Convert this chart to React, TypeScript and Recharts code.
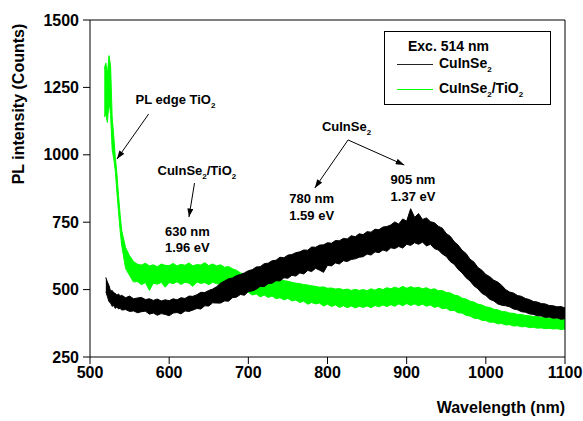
import React from 'react';
import { Area, ComposedChart, Label, Legend, ReferenceDot, ReferenceLine, XAxis, YAxis } from 'recharts';

// wavelength grid (nm)
const wavelengths = [
  518, 520, 522, 524, 526, 528, 530, 532, 534, 536, 538, 540,
  545, 550, 555, 560, 565, 570, 575, 580, 585, 590, 595, 600,
  605, 610, 615, 620, 625, 630, 635, 640, 645, 650, 655, 660,
  665, 670, 675, 680, 685, 690, 695, 700, 705, 710, 715, 720,
  725, 730, 735, 740, 745, 750, 755, 760, 765, 770, 775, 780,
  785, 790, 795, 800, 805, 810, 815, 820, 825, 830, 835, 840,
  845, 850, 855, 860, 865, 870, 875, 880, 885, 890, 895, 900,
  905, 910, 915, 920, 925, 930, 935, 940, 945, 950, 955, 960,
  965, 970, 975, 980, 985, 990, 995, 1000, 1005, 1010, 1015, 1020,
  1025, 1030, 1035, 1040, 1045, 1050, 1055, 1060, 1065, 1070, 1075, 1080,
  1085, 1090, 1095, 1100,
];

// CuInSe2 noise band (lower / upper edge)
const cisLow = [
  null, 492, 474, 455, 450, 438, 441, 430, 436, 428, 431, 424,
  426, 419, 421, 414, 418, 420, 409, 413, 405, 411, 408, 403,
  413, 415, 410, 421, 419, 424, 430, 428, 440, 439, 451, 450,
  450, 458, 457, 470, 472, 482, 479, 493, 495, 501, 512, 511,
  522, 524, 533, 532, 544, 542, 553, 550, 562, 558, 571, 567,
  579, 572, 564, 590, 588, 599, 595, 607, 604, 612, 614, 620,
  622, 632, 628, 640, 637, 647, 642, 655, 652, 660, 654, 668,
  664, 674, 668, 676, 662, 668, 652, 647, 632, 623, 604, 594,
  575, 562, 544, 532, 514, 503, 486, 478, 464, 458, 447, 442,
  440, 436, 428, 425, 418, 416, 410, 408, 403, 402, 397, 398,
  394, 395, 390, 392,
];
const cisHigh = [
  null, 545, 528, 515, 494, 497, 488, 486, 479, 484, 476, 479,
  470, 476, 466, 469, 471, 463, 466, 460, 465, 458, 462, 459,
  466, 462, 470, 467, 476, 475, 481, 490, 489, 497, 502, 511,
  524, 532, 540, 543, 552, 556, 562, 570, 574, 584, 585, 596,
  598, 607, 609, 620, 618, 628, 630, 637, 640, 647, 646, 658,
  657, 665, 666, 674, 672, 682, 681, 690, 688, 700, 696, 707,
  704, 715, 713, 724, 722, 732, 734, 740, 751, 743, 762, 754,
  800, 768, 782, 760, 766, 752, 748, 735, 728, 708, 698, 678,
  665, 646, 634, 613, 602, 582, 572, 556, 548, 535, 528, 516,
  500, 491, 487, 478, 475, 467, 463, 456, 454, 448, 447, 441,
  440, 436, 437, 432,
];

// CuInSe2/TiO2 noise band
const tioLow = [
  1140, 1150, 1120, 1200, 1150, 1020, 985, 940, 860, 790, 720, 665,
  578, 552, 528, 530, 518, 526, 497, 524, 520, 527, 509, 526,
  522, 529, 519, 527, 524, 512, 528, 523, 526, 518, 527, 522,
  520, 524, 512, 515, 506, 503, 492, 490, 480, 484, 473, 480,
  471, 476, 466, 470, 462, 467, 458, 461, 452, 457, 446, 452,
  447, 450, 439, 446, 437, 443, 434, 440, 433, 439, 432, 438,
  434, 439, 433, 441, 436, 443, 437, 444, 438, 447, 440, 448,
  441, 447, 440, 446, 438, 443, 434, 438, 429, 431, 422, 423,
  414, 413, 404, 402, 394, 393, 386, 385, 379, 379, 373, 374,
  369, 370, 365, 366, 362, 363, 359, 360, 357, 358, 355, 356,
  354, 355, 352, 354,
];
const tioHigh = [
  1320, 1340, 1300, 1368, 1330, 1140, 1070, 990, 930, 850, 780, 720,
  655, 626, 604, 594, 591, 598, 588, 592, 585, 595, 590, 589,
  597, 588, 594, 590, 599, 588, 593, 591, 600, 589, 595, 588,
  592, 583, 586, 577, 572, 562, 557, 546, 541, 550, 543, 545,
  540, 546, 535, 538, 533, 531, 527, 524, 522, 519, 517, 514,
  512, 509, 510, 505, 506, 502, 504, 499, 502, 497, 501, 497,
  500, 496, 503, 498, 505, 500, 507, 503, 509, 504, 512, 505,
  511, 506, 509, 503, 507, 500, 503, 496, 497, 489, 488, 480,
  477, 468, 465, 457, 454, 446, 443, 436, 434, 427, 425, 419,
  418, 413, 412, 408, 408, 404, 403, 400, 400, 396, 397, 394,
  394, 391, 393, 390,
];

const xTicks = [500, 600, 700, 800, 900, 1000, 1100];
const xMinor = [550, 650, 750, 850, 950, 1050];
const yTicks = [250, 500, 750, 1000, 1250, 1500];
const yMinor = [375, 625, 875, 1125, 1375];

const data = wavelengths.map((w, i) => ({
  w,
  cis: cisLow[i] == null ? null : [cisLow[i], cisHigh[i]],
  tio: [tioLow[i], tioHigh[i]],
}));

const FONT = '"Liberation Sans", Arial, sans-serif';
const tickStyle = { fontFamily: FONT, fontWeight: 'bold', fontSize: 16, fill: '#000' };
const noteProps = { fontFamily: FONT, fontWeight: 'bold', fontSize: 13, fill: '#000', textAnchor: 'middle' as const };

const Sub = ({ children }: { children: React.ReactNode }) => (
  <tspan fontSize={8} dy={4}>{children}</tspan>
);

const HtmlSub = ({ children }: { children: React.ReactNode }) => (
  <span style={{ fontSize: 8, position: 'relative', top: 4 }}>{children}</span>
);

const LegendBox = () => (
  <div
    style={{
      position: 'relative', width: 167, height: 74, border: '1px solid #000', boxSizing: 'border-box',
      background: '#fff', fontFamily: FONT, fontWeight: 'bold', fontSize: 14, lineHeight: '16px', color: '#000',
    }}
  >
    <div style={{ position: 'absolute', left: 23, top: 6 }}>Exc. 514 nm</div>
    <div style={{ position: 'absolute', left: 12, top: 32, width: 36, height: 1, background: '#222' }} />
    <div style={{ position: 'absolute', left: 54, top: 23 }}>CuInSe<HtmlSub>2</HtmlSub></div>
    <div style={{ position: 'absolute', left: 12, top: 57, width: 36, height: 1, background: '#00ff00' }} />
    <div style={{ position: 'absolute', left: 54, top: 48 }}>CuInSe<HtmlSub>2</HtmlSub>/TiO<HtmlSub>2</HtmlSub></div>
  </div>
);

const arrow = 'url(#noteArrow)';

const App = () => (
  <div style={{ position: 'absolute', left: 0, top: 0, background: '#fff' }}>
    <ComposedChart width={583} height={421} data={data} margin={{ top: 20, right: 18, bottom: 0, left: 0 }}>
      <XAxis xAxisId="minor" dataKey="w" type="number" domain={[500, 1100]} ticks={xMinor} height={0}
        axisLine={false} tickSize={4} tick={() => <g />} stroke="#000" allowDataOverflow />
      <XAxis dataKey="w" type="number" domain={[500, 1100]} ticks={xTicks} height={64} tickSize={7} tickMargin={3}
        tick={tickStyle} stroke="#000" allowDataOverflow>
        <Label
          content={({ viewBox }: any) => (
            <text x={viewBox.x + viewBox.width} y={viewBox.y + 56} textAnchor="end"
              fontFamily={FONT} fontWeight="bold" fontSize={16} fill="#000">Wavelength (nm)</text>
          )}
        />
      </XAxis>
      <YAxis yAxisId="minor" type="number" domain={[250, 1500]} ticks={yMinor} width={0}
        axisLine={false} tickSize={4} tick={() => <g />} stroke="#000" allowDataOverflow />
      <YAxis type="number" domain={[250, 1500]} ticks={yTicks} width={90} tickSize={7} tickMargin={4}
        tick={tickStyle} stroke="#000" allowDataOverflow>
        <Label
          content={({ viewBox }: any) => {
            const x = viewBox.x + 24;
            const y = viewBox.y + 84;
            return (
              <text x={x} y={y} transform={`rotate(-90, ${x}, ${y})`} textAnchor="middle"
                fontFamily={FONT} fontWeight="bold" fontSize={16} fill="#000">PL intensity (Counts)</text>
            );
          }}
        />
      </YAxis>

      <ReferenceLine y={1500} stroke="#000" />
      <ReferenceLine x={1100} stroke="#000" />

      <Area dataKey="tio" type="linear" stroke="#00ff00" strokeWidth={1} fill="#00ff00" fillOpacity={1}
        dot={false} activeDot={false} isAnimationActive={false} />
      <Area dataKey="cis" type="linear" stroke="#000" strokeWidth={1} fill="#000" fillOpacity={1}
        dot={false} activeDot={false} isAnimationActive={false} />

      <ReferenceLine segment={[{ x: 574, y: 1151 }, { x: 534, y: 984 }]} stroke="#000" markerEnd={arrow} />
      <ReferenceLine segment={[{ x: 632, y: 895 }, { x: 625, y: 769 }]} stroke="#000" markerEnd={arrow} />
      <ReferenceLine segment={[{ x: 826, y: 1055 }, { x: 784, y: 877 }]} stroke="#000" markerEnd={arrow} />
      <ReferenceLine segment={[{ x: 826, y: 1055 }, { x: 897, y: 962 }]} stroke="#000" markerEnd={arrow} />

      <ReferenceDot x={608} y={1188} r={0} shape={(p: any) => (
        <g>
          <defs>
            <marker id="noteArrow" viewBox="0 0 10 7" refX={10} refY={3.5} markerWidth={9} markerHeight={6}
              markerUnits="userSpaceOnUse" orient="auto">
              <path d="M0,0 L10,3.5 L0,7 Z" fill="#000" />
            </marker>
          </defs>
          <text x={p.cx} y={p.cy} {...noteProps}>PL edge TiO<Sub>2</Sub></text>
        </g>
      )} />
      <ReferenceDot x={635} y={925} r={0} shape={(p: any) => (
        <text x={p.cx} y={p.cy} {...noteProps}>CuInSe<Sub>2</Sub><tspan dy={-4}>/TiO</tspan><Sub>2</Sub></text>
      )} />
      <ReferenceDot x={623} y={699} r={0} shape={(p: any) => (
        <text x={p.cx} y={p.cy} {...noteProps}>630 nm</text>
      )} />
      <ReferenceDot x={623} y={640} r={0} shape={(p: any) => (
        <text x={p.cx} y={p.cy} {...noteProps}>1.96 eV</text>
      )} />
      <ReferenceDot x={780} y={821} r={0} shape={(p: any) => (
        <text x={p.cx} y={p.cy} {...noteProps}>780 nm</text>
      )} />
      <ReferenceDot x={780} y={758} r={0} shape={(p: any) => (
        <text x={p.cx} y={p.cy} {...noteProps}>1.59 eV</text>
      )} />
      <ReferenceDot x={824} y={1088} r={0} shape={(p: any) => (
        <text x={p.cx} y={p.cy} {...noteProps}>CuInSe<Sub>2</Sub></text>
      )} />
      <ReferenceDot x={908} y={892} r={0} shape={(p: any) => (
        <text x={p.cx} y={p.cy} {...noteProps}>905 nm</text>
      )} />
      <ReferenceDot x={908} y={829} r={0} shape={(p: any) => (
        <text x={p.cx} y={p.cy} {...noteProps}>1.37 eV</text>
      )} />

      <Legend
        layout="horizontal"
        verticalAlign="middle"
        align="center"
        content={() => <LegendBox />}
        wrapperStyle={{ position: 'absolute', left: 384, top: 31, width: 167, height: 74 }}
      />
    </ComposedChart>
  </div>
);

export default App;
